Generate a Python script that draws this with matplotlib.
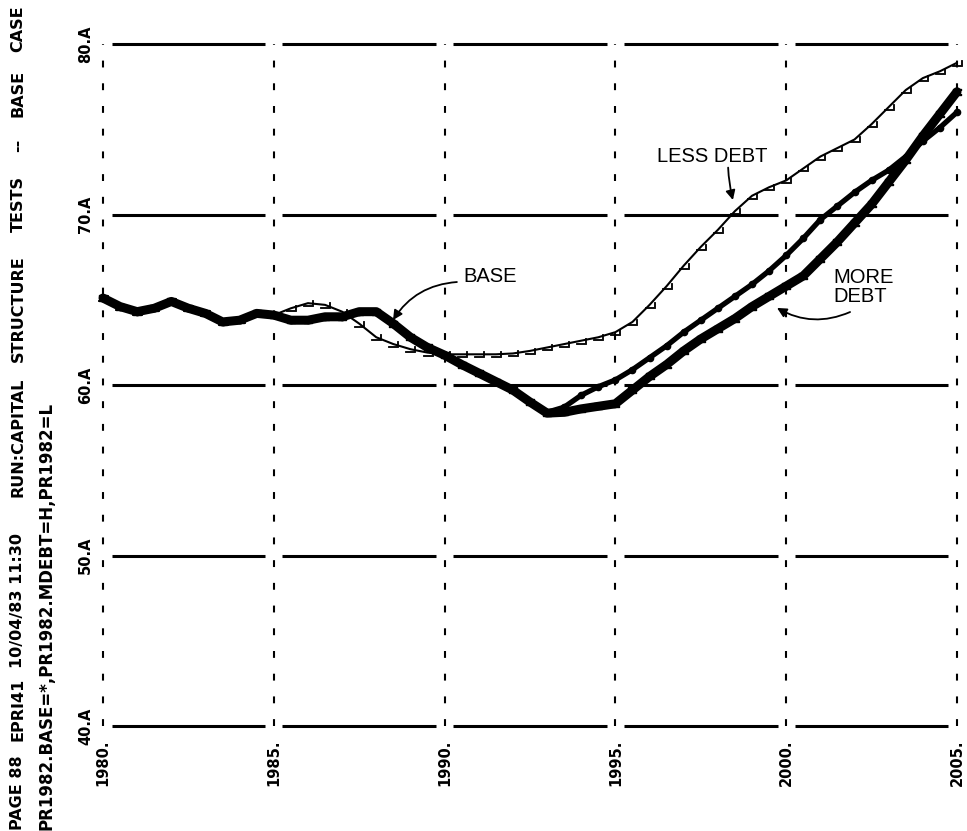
import matplotlib
matplotlib.use("Agg")
import matplotlib.pyplot as plt
from matplotlib.markers import MarkerStyle
from matplotlib.transforms import Affine2D

# half-year points, 1980.0 .. 2005.0
years = [1980 + 0.5 * i for i in range(51)]

base = [65.1, 64.6, 64.3, 64.5, 64.9, 64.5, 64.2, 63.7, 63.8, 64.2,
        64.1, 63.8, 63.8, 64.0, 64.0, 64.3, 64.3, 63.6, 62.8, 62.2,
        61.75, 61.2, 60.7, 60.2, 59.7, 59.0, 58.4, 58.7, 59.4, 59.9,
        60.3, 60.9, 61.6, 62.3, 63.1, 63.8, 64.5, 65.2, 65.9, 66.7,
        67.6, 68.6, 69.7, 70.5, 71.3, 72.0, 72.6, 73.4, 74.3, 75.1,
        76.0]

more_debt = [65.1, 64.6, 64.3, 64.5, 64.9, 64.5, 64.2, 63.7, 63.8, 64.2,
             64.1, 63.8, 63.8, 64.0, 64.0, 64.3, 64.3, 63.6, 62.8, 62.2,
             61.75, 61.2, 60.7, 60.2, 59.7, 59.0, 58.35, 58.4, 58.6, 58.75,
             58.9, 59.7, 60.5, 61.2, 62.0, 62.7, 63.3, 63.9, 64.6, 65.2,
             65.8, 66.4, 67.4, 68.4, 69.5, 70.6, 71.9, 73.2, 74.6, 75.9,
             77.2]

less_debt = [65.1, 64.6, 64.3, 64.5, 64.9, 64.5, 64.2, 63.7, 63.8, 64.2,
             64.1, 64.5, 64.8, 64.7, 64.3, 63.6, 62.8, 62.4, 62.1, 61.9,
             61.8, 61.8, 61.8, 61.8, 61.85, 62.0, 62.2, 62.4, 62.6, 62.8,
             63.1, 63.7, 64.7, 65.8, 67.0, 68.1, 69.1, 70.2, 71.1, 71.6,
             72.0, 72.7, 73.4, 73.9, 74.4, 75.3, 76.3, 77.3, 78.0, 78.4,
             78.9]

x_ticks = [1980, 1985, 1990, 1995, 2000, 2005]
x_labels = ["1980.", "1985.", "1990.", "1995.", "2000.", "2005."]
y_ticks = [40, 50, 60, 70, 80]
y_labels = ["40.A", "50.A", "60.A", "70.A", "80.A"]

# header words and the pixel row (from the top) where each one ends
header_words = ["PAGE 88", "EPRI41", "10/04/83 11:30", "RUN:CAPITAL",
                "STRUCTURE", "TESTS", "--", "BASE", "CASE"]
header_rows = [830, 741, 668, 497, 362, 232, 152, 117, 52]
legend_line = "PR1982.BASE=*,PR1982.MDEBT=H,PR1982=L"

W, H = 967, 831
fig = plt.figure(figsize=(W / 100, H / 100), dpi=100)
ax = fig.add_axes([103 / W, 105 / H, 854 / W, 682 / H])
ax.set_xlim(1980, 2005)
ax.set_ylim(40, 80)
ax.axis("off")

# grid: solid horizontal pieces broken at the dashed verticals
gap = 0.25
for y in y_ticks:
    ax.hlines([y] * (len(x_ticks) - 1),
              [a + gap for a in x_ticks[:-1]],
              [b - gap for b in x_ticks[1:]],
              color="black", lw=2.2, clip_on=False)
ax.vlines(x_ticks, 40, 80, color="black", lw=1.5,
          linestyles=(0, (3.3, 7.6)), clip_on=False)

rot = Affine2D().rotate_deg(90)
m_L = MarkerStyle(r"$\mathsf{L}$", transform=rot)
m_H = MarkerStyle(r"$\mathsf{H}$", transform=rot)

ax.plot(years, more_debt, color="black", lw=6.5, solid_capstyle="round",
        solid_joinstyle="round", marker=m_H, ms=6, clip_on=False)
ax.plot(years, base, color="black", lw=3.8, solid_capstyle="round",
        solid_joinstyle="round", marker="o", ms=4.5, clip_on=False)
ax.plot(years, less_debt, color="black", lw=1.5, solid_capstyle="round",
        solid_joinstyle="round", marker=m_L, ms=7, mew=0.6, clip_on=False)

# tick labels, rotated like the plotter output
tick_font = dict(family="DejaVu Sans", weight="bold", size=10.5, rotation=90)
for x, lab in zip(x_ticks, x_labels):
    ax.annotate(lab, (x, 40), xytext=(0, -10), textcoords="offset points",
                ha="center", va="top", **tick_font)
for y, lab in zip(y_ticks, y_labels):
    ax.annotate(lab, (1980, y), xytext=(-7, 0), textcoords="offset points",
                ha="right", va="center", **tick_font)

# header lines along the left edge
head = dict(family="DejaVu Sans", weight="bold", size=11.5, rotation=90,
            ha="center", va="bottom")
for word, row in zip(header_words, header_rows):
    fig.text(18 / W, 1 - row / H, word, **head)
fig.text(47 / W, 1 - 830 / H, legend_line,
         **dict(head, size=12))

# labels with arrows
note = dict(family="Liberation Sans", size=14.5, color="black")
arrow = dict(arrowstyle="-|>", color="black", lw=1.3, mutation_scale=14,
             shrinkA=0, shrinkB=0)
ax.text(1997.83, 73.43, "LESS DEBT", ha="center", va="center", **note)
ax.annotate("", xy=(1998.44, 70.85), xytext=(1998.30, 72.75),
            arrowprops=dict(connectionstyle="arc3,rad=0.05", **arrow))
ax.text(1991.33, 66.39, "BASE", ha="center", va="center", **note)
ax.annotate("", xy=(1988.49, 63.81), xytext=(1990.36, 66.04),
            arrowprops=dict(connectionstyle="arc3,rad=0.25", **arrow))
ax.text(2001.37, 66.86, "MORE\nDEBT", ha="left", va="top", linespacing=1.0, **note)
ax.annotate("", xy=(1999.73, 64.52), xytext=(2001.87, 64.28),
            arrowprops=dict(connectionstyle="arc3,rad=-0.25", **arrow))

fig.savefig("out.png", dpi=100, facecolor="white")
